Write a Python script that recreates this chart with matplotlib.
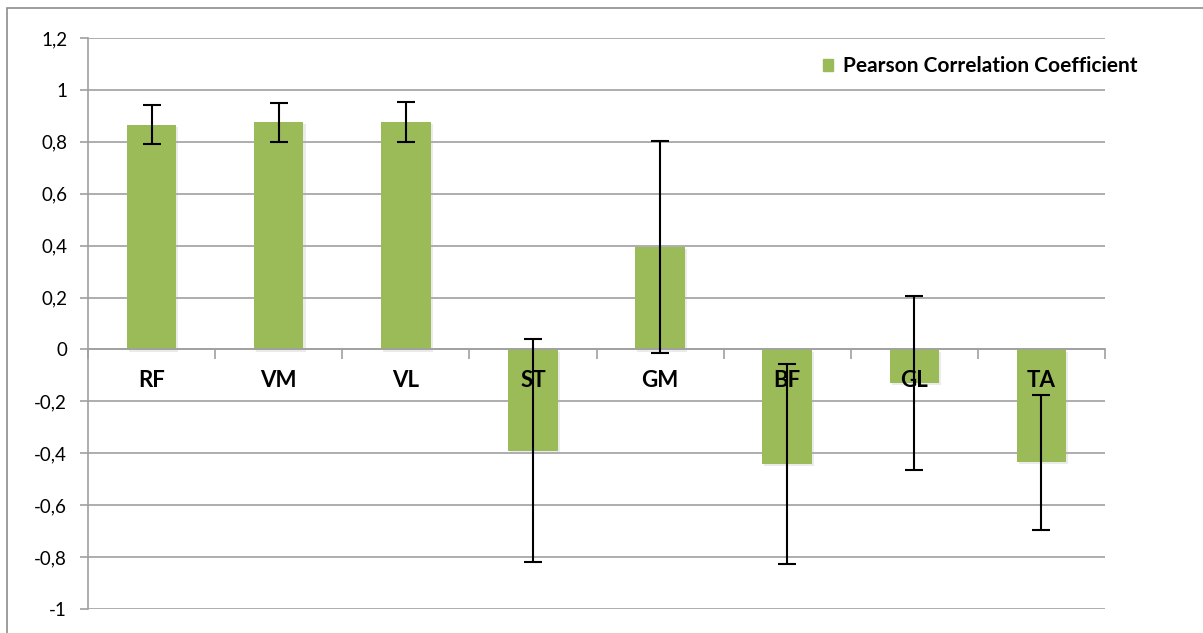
import matplotlib
matplotlib.use("Agg")
import matplotlib.pyplot as plt
import matplotlib.patheffects as pe
from matplotlib.patches import Patch, Rectangle
import numpy as np

muscles = ["RF", "VM", "VL", "ST", "GM", "BF", "GL", "TA"]
pearson = [0.865, 0.875, 0.875, -0.39, 0.395, -0.44, -0.13, -0.435]
err = [0.075, 0.075, 0.077, 0.43, 0.41, 0.385, 0.335, 0.26]
yticks = [-1, -0.8, -0.6, -0.4, -0.2, 0, 0.2, 0.4, 0.6, 0.8, 1, 1.2]

plt.rcParams['font.family'] = ['Lato', 'DejaVu Sans']

fig = plt.figure(figsize=(12.03, 6.33), dpi=100)
# outer chart border
fig.patches.append(Rectangle((7/1203, -0.01), 1.0, 1 - 8/633 + 0.01, transform=fig.transFigure,
                             fill=False, edgecolor='#8c8c8c', linewidth=1.2))
ax = fig.add_axes([88/1203, 1 - 609/633, (1105-88)/1203, (609-38)/633])

x = np.arange(len(muscles))
green = '#9bbb59'
grid_c = '#a0a0a0'

for t in yticks:
    ax.axhline(t, color=grid_c, lw=1.2, zorder=0)

bars = ax.bar(x, pearson, width=0.39, color=green, zorder=2)
for b in bars:
    b.set_path_effects([pe.SimplePatchShadow(offset=(1.5, -1.5), shadow_rgbFace='#b0b0b0', alpha=0.25),
                        pe.Normal()])
ax.errorbar(x, pearson, yerr=err, fmt='none', ecolor='black', elinewidth=1.5,
            capsize=6.5, capthick=1.5, zorder=4)

# category names sit just under the zero line, on top of the bars
for i, m in enumerate(muscles):
    ax.text(i, -0.12, m, ha='center', va='center', fontsize=16, fontweight='bold', zorder=5)

ax.set_xlim(-0.5, len(muscles) - 0.5)
ax.set_ylim(-1, 1.2)
ax.set_yticks(yticks)
ax.set_yticklabels([('%g' % t).replace('.', ',') for t in yticks], fontsize=13.5)
ax.set_xticks(np.arange(-0.5, len(muscles)))
ax.set_xticklabels([])
ax.tick_params(axis='x', direction='out', length=7, color=grid_c, width=1.2)
ax.tick_params(axis='y', direction='out', length=6, color=grid_c, width=1.2, pad=9)

for s in ['top', 'right']:
    ax.spines[s].set_visible(False)
ax.spines['bottom'].set_position(('data', 0))
ax.spines['bottom'].set_color(grid_c)
ax.spines['bottom'].set_linewidth(1.2)
ax.spines['left'].set_color(grid_c)
ax.spines['left'].set_linewidth(1.2)

ax.legend(handles=[Patch(color=green, label='Pearson Correlation Coefficient')],
          loc='center left', bbox_to_anchor=(823/1203, 1 - 66/633), bbox_transform=fig.transFigure,
          frameon=False, prop={'size': 15, 'weight': 'bold'}, handlelength=0.5, handleheight=0.5,
          handletextpad=0.45, borderaxespad=0, borderpad=0)

fig.savefig('out.png', dpi=100)
